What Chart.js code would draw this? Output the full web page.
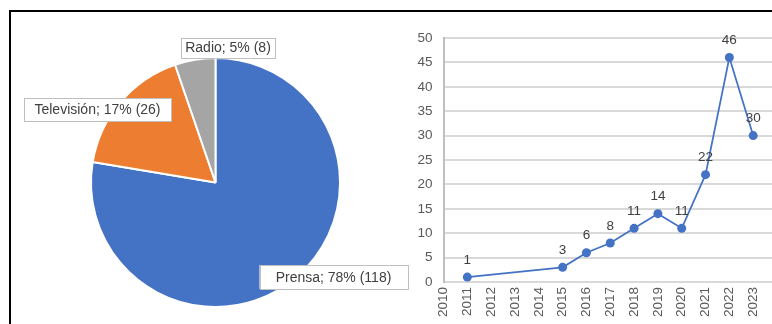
<!DOCTYPE html>
<html>
<head>
<meta charset="utf-8">
<script src="https://cdn.jsdelivr.net/npm/chart.js@4/dist/chart.umd.min.js"></script>
<style>
  html, body { margin: 0; padding: 0; background: #fff; overflow: hidden; }
  body { width: 772px; height: 324px; position: relative; }
  #frame { position: absolute; left: 9px; top: 10px; width: 800px; height: 400px;
           border-top: 2px solid #000; border-left: 2px solid #000; }
  #pieWrap { position: absolute; left: 0; top: 0; width: 420px; height: 324px; }
  #lineWrap { position: absolute; left: 400px; top: 0; width: 400px; height: 324px; }
</style>
</head>
<body>
<div id="frame"></div>
<div id="pieWrap"><canvas id="pie"></canvas></div>
<div id="lineWrap"><canvas id="line"></canvas></div>
<script>
// pie: medios
const mediaLabels = ['Prensa', 'Televisión', 'Radio'];
const mediaCounts = [118, 26, 8];
const mediaPct = [78, 17, 5];
const mediaColors = ['#4472C4', '#ED7D31', '#A5A5A5'];

// line: publicaciones por año
const years = [2011, 2015, 2016, 2017, 2018, 2019, 2020, 2021, 2022, 2023];
const counts = [1, 3, 6, 8, 11, 14, 11, 22, 46, 30];

const FONT = '"Liberation Sans", Arial, sans-serif';
Chart.defaults.font.family = FONT;
Chart.defaults.font.size = 13.5;
Chart.defaults.color = '#595959';

// label boxes for the pie, placed relative to pie centre
const pieLabelBoxes = {
  id: 'pieLabelBoxes',
  afterDatasetsDraw(chart, args, opts) {
    const ctx = chart.ctx;
    const meta = chart.getDatasetMeta(0);
    ctx.save();
    ctx.font = '14px ' + FONT;
    ctx.textAlign = 'center';
    ctx.textBaseline = 'middle';
    meta.data.forEach((arc, i) => {
      const b = opts.boxes[i];
      const cx = arc.x + b.dx, cy = arc.y + b.dy;
      ctx.fillStyle = '#fff';
      ctx.fillRect(cx - b.w / 2, cy - b.h / 2, b.w, b.h);
      ctx.strokeStyle = '#bfbfbf';
      ctx.lineWidth = 1;
      ctx.strokeRect(Math.round(cx - b.w / 2) + 0.5, Math.round(cy - b.h / 2) + 0.5, b.w, b.h);
      ctx.fillStyle = '#404040';
      ctx.fillText(mediaLabels[i] + '; ' + mediaPct[i] + '% (' + mediaCounts[i] + ')', cx, cy + 1);
    });
    ctx.restore();
  }
};

new Chart(document.getElementById('pie'), {
  type: 'pie',
  data: {
    labels: mediaLabels,
    datasets: [{
      data: mediaCounts,
      backgroundColor: mediaColors,
      borderColor: '#fff',
      borderWidth: 2
    }]
  },
  options: {
    responsive: true,
    maintainAspectRatio: false,
    animation: false,
    layout: { padding: { left: 90, right: 79, top: 57, bottom: 16 } },
    plugins: {
      legend: { display: false },
      tooltip: { enabled: false },
      pieLabelBoxes: {
        boxes: [
          { dx: 118, dy: 94.5, w: 148, h: 24 },
          { dx: -118, dy: -73, w: 147, h: 23 },
          { dx: 12.5, dy: -135, w: 94, h: 20 }
        ]
      }
    }
  },
  plugins: [pieLabelBoxes]
});

// value labels above the line points
const pointValues = {
  id: 'pointValues',
  afterDatasetsDraw(chart) {
    const ctx = chart.ctx;
    const meta = chart.getDatasetMeta(0);
    ctx.save();
    ctx.font = '13.5px ' + FONT;
    ctx.fillStyle = '#404040';
    ctx.textAlign = 'center';
    ctx.textBaseline = 'middle';
    meta.data.forEach((pt, i) => {
      ctx.fillText(String(counts[i]), pt.x, pt.y - 17);
    });
    ctx.restore();
  }
};

new Chart(document.getElementById('line'), {
  type: 'line',
  data: {
    datasets: [{
      data: years.map((y, i) => ({ x: y, y: counts[i] })),
      borderColor: '#4472C4',
      backgroundColor: '#4472C4',
      borderWidth: 1.75,
      pointRadius: 4.5,
      pointBorderWidth: 0,
      tension: 0
    }]
  },
  options: {
    responsive: true,
    maintainAspectRatio: false,
    animation: false,
    layout: { padding: { left: 0, right: 23, top: 38, bottom: 0 } },
    plugins: { legend: { display: false }, tooltip: { enabled: false } },
    scales: {
      x: {
        type: 'linear',
        min: 2010,
        max: 2024,
        grid: { display: false, drawTicks: false },
        border: { display: true, color: '#d9d9d9', width: 2 },
        ticks: {
          stepSize: 1,
          autoSkip: false,
          maxRotation: 90,
          minRotation: 90,
          padding: 5,
          color: '#595959',
          callback: v => String(v)
        },
        afterFit(scale) { scale.height = 42; }
      },
      y: {
        min: 0,
        max: 50,
        grid: { color: '#d9d9d9', lineWidth: 2, drawTicks: false },
        border: { display: true, color: '#bfbfbf', width: 2 },
        ticks: { stepSize: 5, padding: 11, color: '#595959' },
        afterFit(scale) { scale.width = 43.5; }
      }
    }
  },
  plugins: [pointValues]
});
</script>
</body>
</html>
